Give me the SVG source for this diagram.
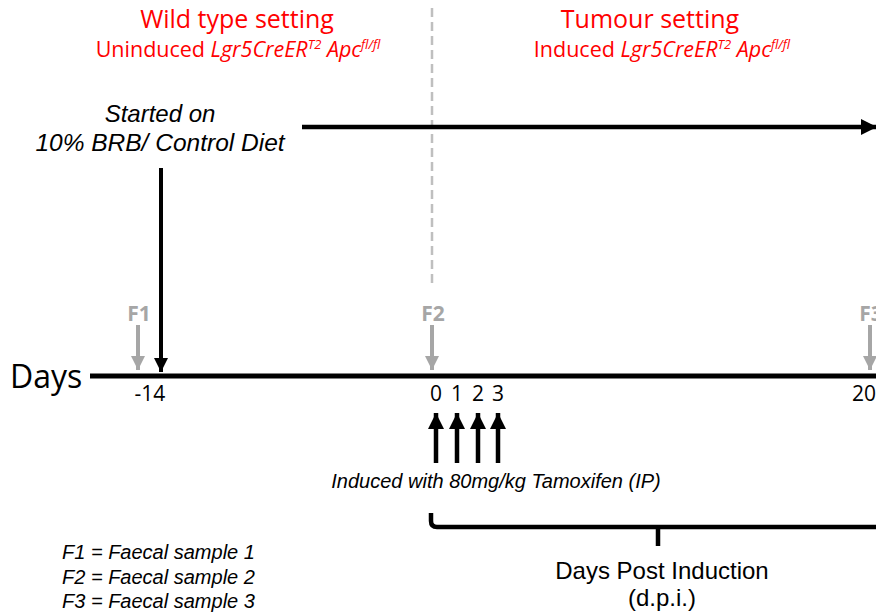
<svg xmlns="http://www.w3.org/2000/svg" width="876" height="614" viewBox="0 0 876 614">
<style>
.red{fill:#ff0000;font-family:"Open Sans","Liberation Sans",sans-serif}
.it{font-style:italic}
.sup{font-style:italic;font-size:13px}
.blk{fill:#000;font-family:"Liberation Sans",Arial,sans-serif}
.num{fill:#000;font-family:"Open Sans","Liberation Sans",sans-serif;font-size:21px}
.gr{fill:#a6a6a6;font-family:"Open Sans","Liberation Sans",sans-serif;font-weight:bold;font-size:21px}
.ln{stroke:#000;fill:none}
.gl{stroke:#a6a6a6;fill:none;stroke-width:4}
</style>
<defs>
<marker id="ah" viewBox="0 0 10 10" refX="10" refY="5" markerWidth="3.6" markerHeight="3.6" orient="auto" markerUnits="strokeWidth"><path d="M0,0L10,5L0,10z" fill="#000"/></marker>
<marker id="ag" viewBox="0 0 10 10" refX="10" refY="5" markerWidth="3.6" markerHeight="3.6" orient="auto" markerUnits="strokeWidth"><path d="M0,0L10,5L0,10z" fill="#a6a6a6"/></marker>
</defs>
<rect width="876" height="614" fill="#fff"/>
<g id="titles">
<text class="red" x="237" y="28" font-size="25" text-anchor="middle">Wild type setting</text>
<text class="red" x="238" y="57" font-size="21.5" text-anchor="middle">Uninduced <tspan class="it">Lgr5CreER</tspan><tspan class="sup" dy="-8">T2</tspan><tspan class="it" dy="8"> Apc</tspan><tspan class="sup" dy="-8">fl/fl</tspan></text>
<text class="red" x="650" y="28" font-size="25" text-anchor="middle">Tumour setting</text>
<text class="red" x="662" y="57" font-size="21.5" text-anchor="middle">Induced <tspan class="it">Lgr5CreER</tspan><tspan class="sup" dy="-8">T2</tspan><tspan class="it" dy="8"> Apc</tspan><tspan class="sup" dy="-8">fl/fl</tspan></text>
</g>
<g id="divider"><line x1="432" y1="8" x2="432" y2="288" stroke="#bfbfbf" stroke-width="2.5" stroke-dasharray="9,5"/></g>
<g id="diet">
<text class="blk it" x="160" y="122" font-size="24" text-anchor="middle">Started on</text>
<text class="blk it" x="160" y="151" font-size="24.5" text-anchor="middle">10% BRB/ Control Diet</text>
</g>
<g id="timeline">
<text x="10" y="388" font-size="32" font-family="'Open Sans','Liberation Sans',sans-serif" fill="#000">Days</text>
<text class="num" x="150" y="401" text-anchor="middle">-14</text>
<text class="num" x="436" y="401" text-anchor="middle">0</text>
<text class="num" x="457" y="401" text-anchor="middle">1</text>
<text class="num" x="478" y="401" text-anchor="middle">2</text>
<text class="num" x="498" y="401" text-anchor="middle">3</text>
<text class="num" x="852" y="401">20</text>
</g>
<g id="samples">
<text class="gr" x="139" y="321" text-anchor="middle">F1</text>
<text class="gr" x="433" y="321" text-anchor="middle">F2</text>
<text class="gr" x="871" y="321" text-anchor="middle">F3</text>
</g>
<g id="induction">
<text class="blk it" x="496" y="488" font-size="20" text-anchor="middle">Induced with  80mg/kg Tamoxifen (IP)</text>
</g>
<g id="dpi">
<text class="blk" x="662" y="579" font-size="24" text-anchor="middle">Days Post Induction</text>
<text class="blk" x="662" y="606" font-size="24" text-anchor="middle">(d.p.i.)</text>
</g>
<g id="legend">
<text class="blk it" x="62" y="559" font-size="20">F1 = Faecal sample 1</text>
<text class="blk it" x="62" y="584" font-size="20">F2 = Faecal sample 2</text>
<text class="blk it" x="62" y="608" font-size="20">F3 = Faecal sample 3</text>
</g>
<g id="connectors">
<line class="ln" x1="90" y1="376" x2="876" y2="376" stroke-width="5"/>
<line class="ln" x1="302" y1="127" x2="877" y2="127" stroke-width="4.5" marker-end="url(#ah)"/>
<line class="ln" x1="161" y1="168" x2="161" y2="372" stroke-width="4" marker-end="url(#ah)"/>
<line class="gl" x1="138" y1="325" x2="138" y2="370" marker-end="url(#ag)"/>
<line class="gl" x1="432" y1="325" x2="432" y2="370" marker-end="url(#ag)"/>
<line class="gl" x1="870" y1="325" x2="870" y2="370" marker-end="url(#ag)"/>
<line class="ln" x1="436" y1="463" x2="436" y2="413" stroke-width="4.5" marker-end="url(#ah)"/>
<line class="ln" x1="457" y1="463" x2="457" y2="413" stroke-width="4.5" marker-end="url(#ah)"/>
<line class="ln" x1="478" y1="463" x2="478" y2="413" stroke-width="4.5" marker-end="url(#ah)"/>
<line class="ln" x1="498" y1="463" x2="498" y2="413" stroke-width="4.5" marker-end="url(#ah)"/>
<path class="ln" d="M431,513V521Q431,527 437,527H876M658,527V546" stroke-width="4.5"/>
</g>
</svg>
